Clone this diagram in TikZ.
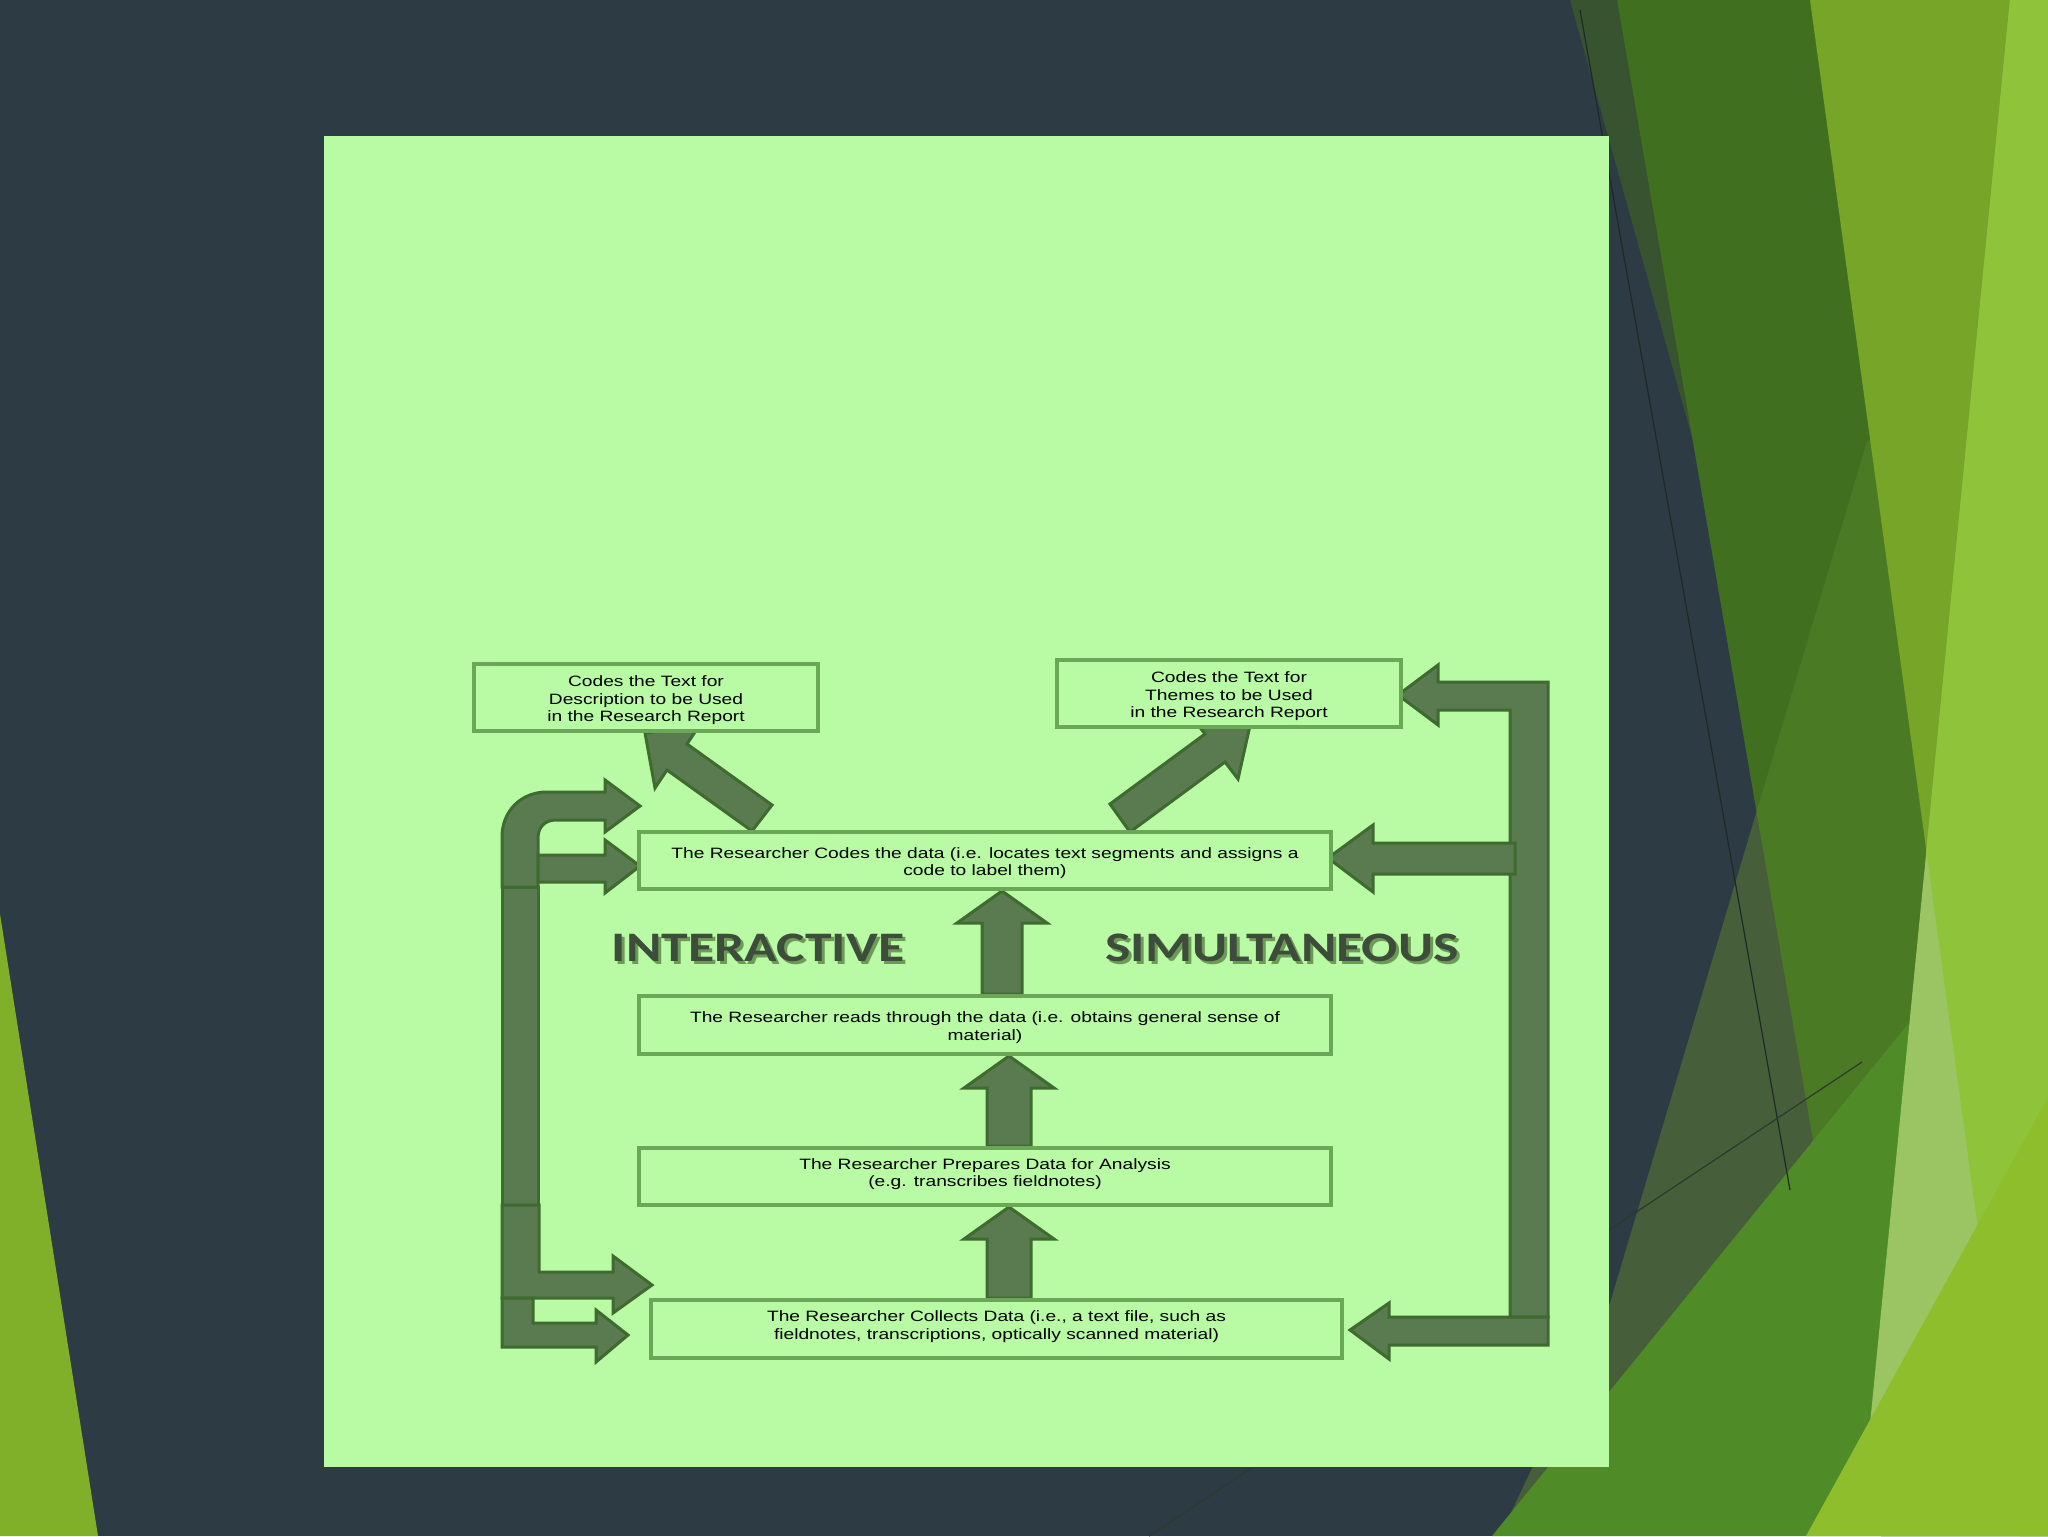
\documentclass[tikz,border=0pt]{standalone}
\usepackage{fontspec}
\setmainfont{Liberation Sans}
\newfontfamily\boxfont{Liberation Sans}[FakeStretch=1.28]
\newfontfamily\bigfont{Carlito}[FakeStretch=1.28]
\usetikzlibrary{calc}
\pgfdeclarelayer{deco}
\pgfdeclarelayer{arr}
\pgfsetlayers{deco,arr,main}
\definecolor{navy}{HTML}{2D3B44}
\definecolor{stripe}{HTML}{37532F}
\definecolor{dgreen}{HTML}{40701F}
\definecolor{tnavy}{HTML}{475E3A}
\definecolor{tgreen}{HTML}{4B7A25}
\definecolor{bandc}{HTML}{4F8C28}
\definecolor{olivec}{HTML}{77A528}
\definecolor{lightc}{HTML}{9BC463}
\definecolor{brightc}{HTML}{8FC33A}
\definecolor{limec}{HTML}{8FBE2D}
\definecolor{lefttri}{HTML}{80B02A}
\definecolor{panel}{HTML}{B8FBA4}
\definecolor{boxline}{HTML}{6AA857}
\definecolor{arrfill}{HTML}{5A7A50}
\definecolor{arrline}{HTML}{3F6A30}
\definecolor{bigtxt}{HTML}{3E4D3B}
\definecolor{bigshadow}{HTML}{6E9A58}
\definecolor{decoline}{HTML}{1F2A27}
\tikzset{
  stagebox/.style={draw=boxline, line width=2pt, fill=panel, inner sep=0pt,
    align=center, text=black, font=\boxfont\fontsize{7.5pt}{8.75pt}\selectfont},
  blk/.style={fill=arrfill, draw=arrline, line width=1.5pt, line join=miter},
  bigword/.style={inner sep=0pt, font=\bigfont\bfseries\fontsize{21pt}{24pt}\selectfont},
  thinline/.style={line width=0.6pt, draw=decoline}
}
\begin{document}
\begin{tikzpicture}[x=0.5pt,y=-0.5pt]
\useasboundingbox (0,0) rectangle (2048,1536);

% ---------- boxes (main layer) ----------
\node[stagebox, minimum width=172pt, minimum height=33.5pt, text height=25.6pt] (desc) at (646,697.5)
  {Codes the Text for\\Description to be Used\\in the Research Report};
\node[stagebox, minimum width=172pt, minimum height=33.5pt, text height=25.6pt] (themes) at (1229,693.5)
  {Codes the Text for\\Themes to be Used\\in the Research Report};
\node[stagebox, minimum width=346pt, minimum height=28.5pt, text height=16.8pt] (codes) at (985,860.5)
  {The Researcher Codes the data (i.e. locates text segments and assigns a\\code to label them)};
\node[stagebox, minimum width=346pt, minimum height=29pt, text height=16.8pt] (reads) at (985,1025)
  {The Researcher reads through the data (i.e. obtains general sense of\\material)};
\node[stagebox, minimum width=346pt, minimum height=28.5pt, text depth=4.2pt] (prep) at (985,1176.5)
  {The Researcher Prepares Data for Analysis\\(e.g. transcribes fieldnotes)};
\node[stagebox, minimum width=345.5pt, minimum height=29pt, text depth=4.2pt] (collect) at (996.5,1329)
  {The Researcher Collects Data (i.e., a text file, such as\\fieldnotes, transcriptions, optically scanned material)};

\node[bigword, text=bigshadow] (interS) at (761,951) {INTERACTIVE};
\node[bigword, text=bigtxt] (inter) at (758,948) {INTERACTIVE};
\node[bigword, text=bigshadow] (simulS) at (1285,951) {SIMULTANEOUS};
\node[bigword, text=bigtxt] (simul) at (1282,948) {SIMULTANEOUS};

% ---------- background decoration ----------
\begin{pgfonlayer}{deco}
  \fill[navy] (0,0) rectangle (2048,1536);
  \fill[lefttri] (0,914) -- (98,1536) -- (0,1536) -- cycle;
  \fill[stripe] (1570,0) -- (1617,0) -- (1693,441) -- cycle;
  \fill[dgreen] (1617,0) -- (2048,0) -- (2048,1536) -- (1881,1536) -- cycle;
  \begin{scope}
    \clip (1610,1303) -- (1867,441) -- (2048,441) -- (2048,1536) -- (1500,1536) -- cycle;
    \fill[tnavy] (1500,400) rectangle (2048,1536);
    \fill[tgreen] (1617,0) -- (2048,0) -- (2048,1536) -- (1881,1536) -- cycle;
  \end{scope}
  \fill[bandc] (1492,1536) -- (1908,1024) -- (2048,1024) -- (2048,1536) -- cycle;
  \fill[olivec] (1810,0) -- (2048,0) -- (2048,1536) -- (2020,1536) -- cycle;
  \begin{scope}
    \clip (2010,0) -- (2048,0) -- (2048,1536) -- (1859,1536) -- cycle;
    \fill[lightc] (1800,0) rectangle (2048,1536);
    \fill[brightc] (1810,0) -- (2048,0) -- (2048,1536) -- (2020,1536) -- cycle;
  \end{scope}
  \fill[limec] (1806,1536) -- (2048,1097) -- (2048,1536) -- cycle;
  \draw[thinline] (1580,10) -- (1790,1190);
  \draw[thinline, draw=decoline!70!tnavy] (1149,1536) -- (1862,1062);
  \fill[panel] (324,136) rectangle (1609,1467);
\end{pgfonlayer}

% ---------- block arrows ----------
\begin{pgfonlayer}{arr}
  % vertical arrows between stages
  \coordinate (xa) at (1002,0);
  \coordinate (xb) at (1009,0);
  \path (reads.north -| xa) coordinate (s1) (codes.south -| xa) coordinate (t1);
  \draw[blk] ($(s1)+(-20,0)$) -- ($(t1)+(-20,32)$) -- ($(t1)+(-45,32)$) -- (t1)
     -- ($(t1)+(45,32)$) -- ($(t1)+(20,32)$) -- ($(s1)+(20,0)$) -- cycle;
  \path (prep.north -| xb) coordinate (s2) (reads.south -| xb) coordinate (t2);
  \draw[blk] ($(s2)+(-22,0)$) -- ($(t2)+(-22,32)$) -- ($(t2)+(-45,32)$) -- (t2)
     -- ($(t2)+(45,32)$) -- ($(t2)+(22,32)$) -- ($(s2)+(22,0)$) -- cycle;
  \path (collect.north -| xb) coordinate (s3) (prep.south -| xb) coordinate (t3);
  \draw[blk] ($(s3)+(-22,0)$) -- ($(t3)+(-22,32)$) -- ($(t3)+(-45,32)$) -- (t3)
     -- ($(t3)+(45,32)$) -- ($(t3)+(22,32)$) -- ($(s3)+(22,0)$) -- cycle;

  % diagonal arrows to the two coding boxes
  \draw[blk] (772,805) -- (687,744) -- (699,726) -- (645,733) -- (655,788) -- (667,770) -- (752,831) -- cycle;
  \draw[blk] (1110,804) -- (1205,734) -- (1192,717) -- (1251,721) -- (1238,779) -- (1225,762) -- (1130,832) -- cycle;

  % left loop
  \draw[blk] (502,887) -- (502,837) .. controls (502,811) and (521,792) .. (547,792)
     -- (605,792) -- (605,780) -- (640,806) -- (605,832) -- (605,820) -- (556,820)
     .. controls (545,820) and (538,827) .. (538,838) -- (538,887) -- cycle;
  \draw[blk] (538,855) -- (605,855) -- (605,840) -- (640,866) -- (605,893) -- (605,882) -- (538,882) -- cycle;
  \draw[blk] (502,887) rectangle (538,1205);
  \draw[blk] (502,1205) -- (539,1205) -- (539,1272) -- (613,1272) -- (613,1256) -- (652,1285)
     -- (613,1313) -- (613,1298) -- (502,1298) -- cycle;
  \draw[blk] (502,1298) -- (533,1298) -- (533,1323) -- (596,1323) -- (596,1310) -- (628,1335)
     -- (596,1362) -- (596,1347) -- (502,1347) -- cycle;

  % right loop
  \draw[blk] (1398,695) -- (1438,665) -- (1438,682) -- (1548,682) -- (1548,1317) -- (1510,1317)
     -- (1510,710) -- (1438,710) -- (1438,725) -- cycle;
  \draw[blk] (1350,1330) -- (1389,1303) -- (1389,1317) -- (1548,1317) -- (1548,1345)
     -- (1389,1345) -- (1389,1359) -- cycle;
  \draw[blk] (1328,858) -- (1373,825) -- (1373,843) -- (1515,843) -- (1515,874) -- (1373,874)
     -- (1373,892) -- cycle;
\end{pgfonlayer}
\end{tikzpicture}
\end{document}
